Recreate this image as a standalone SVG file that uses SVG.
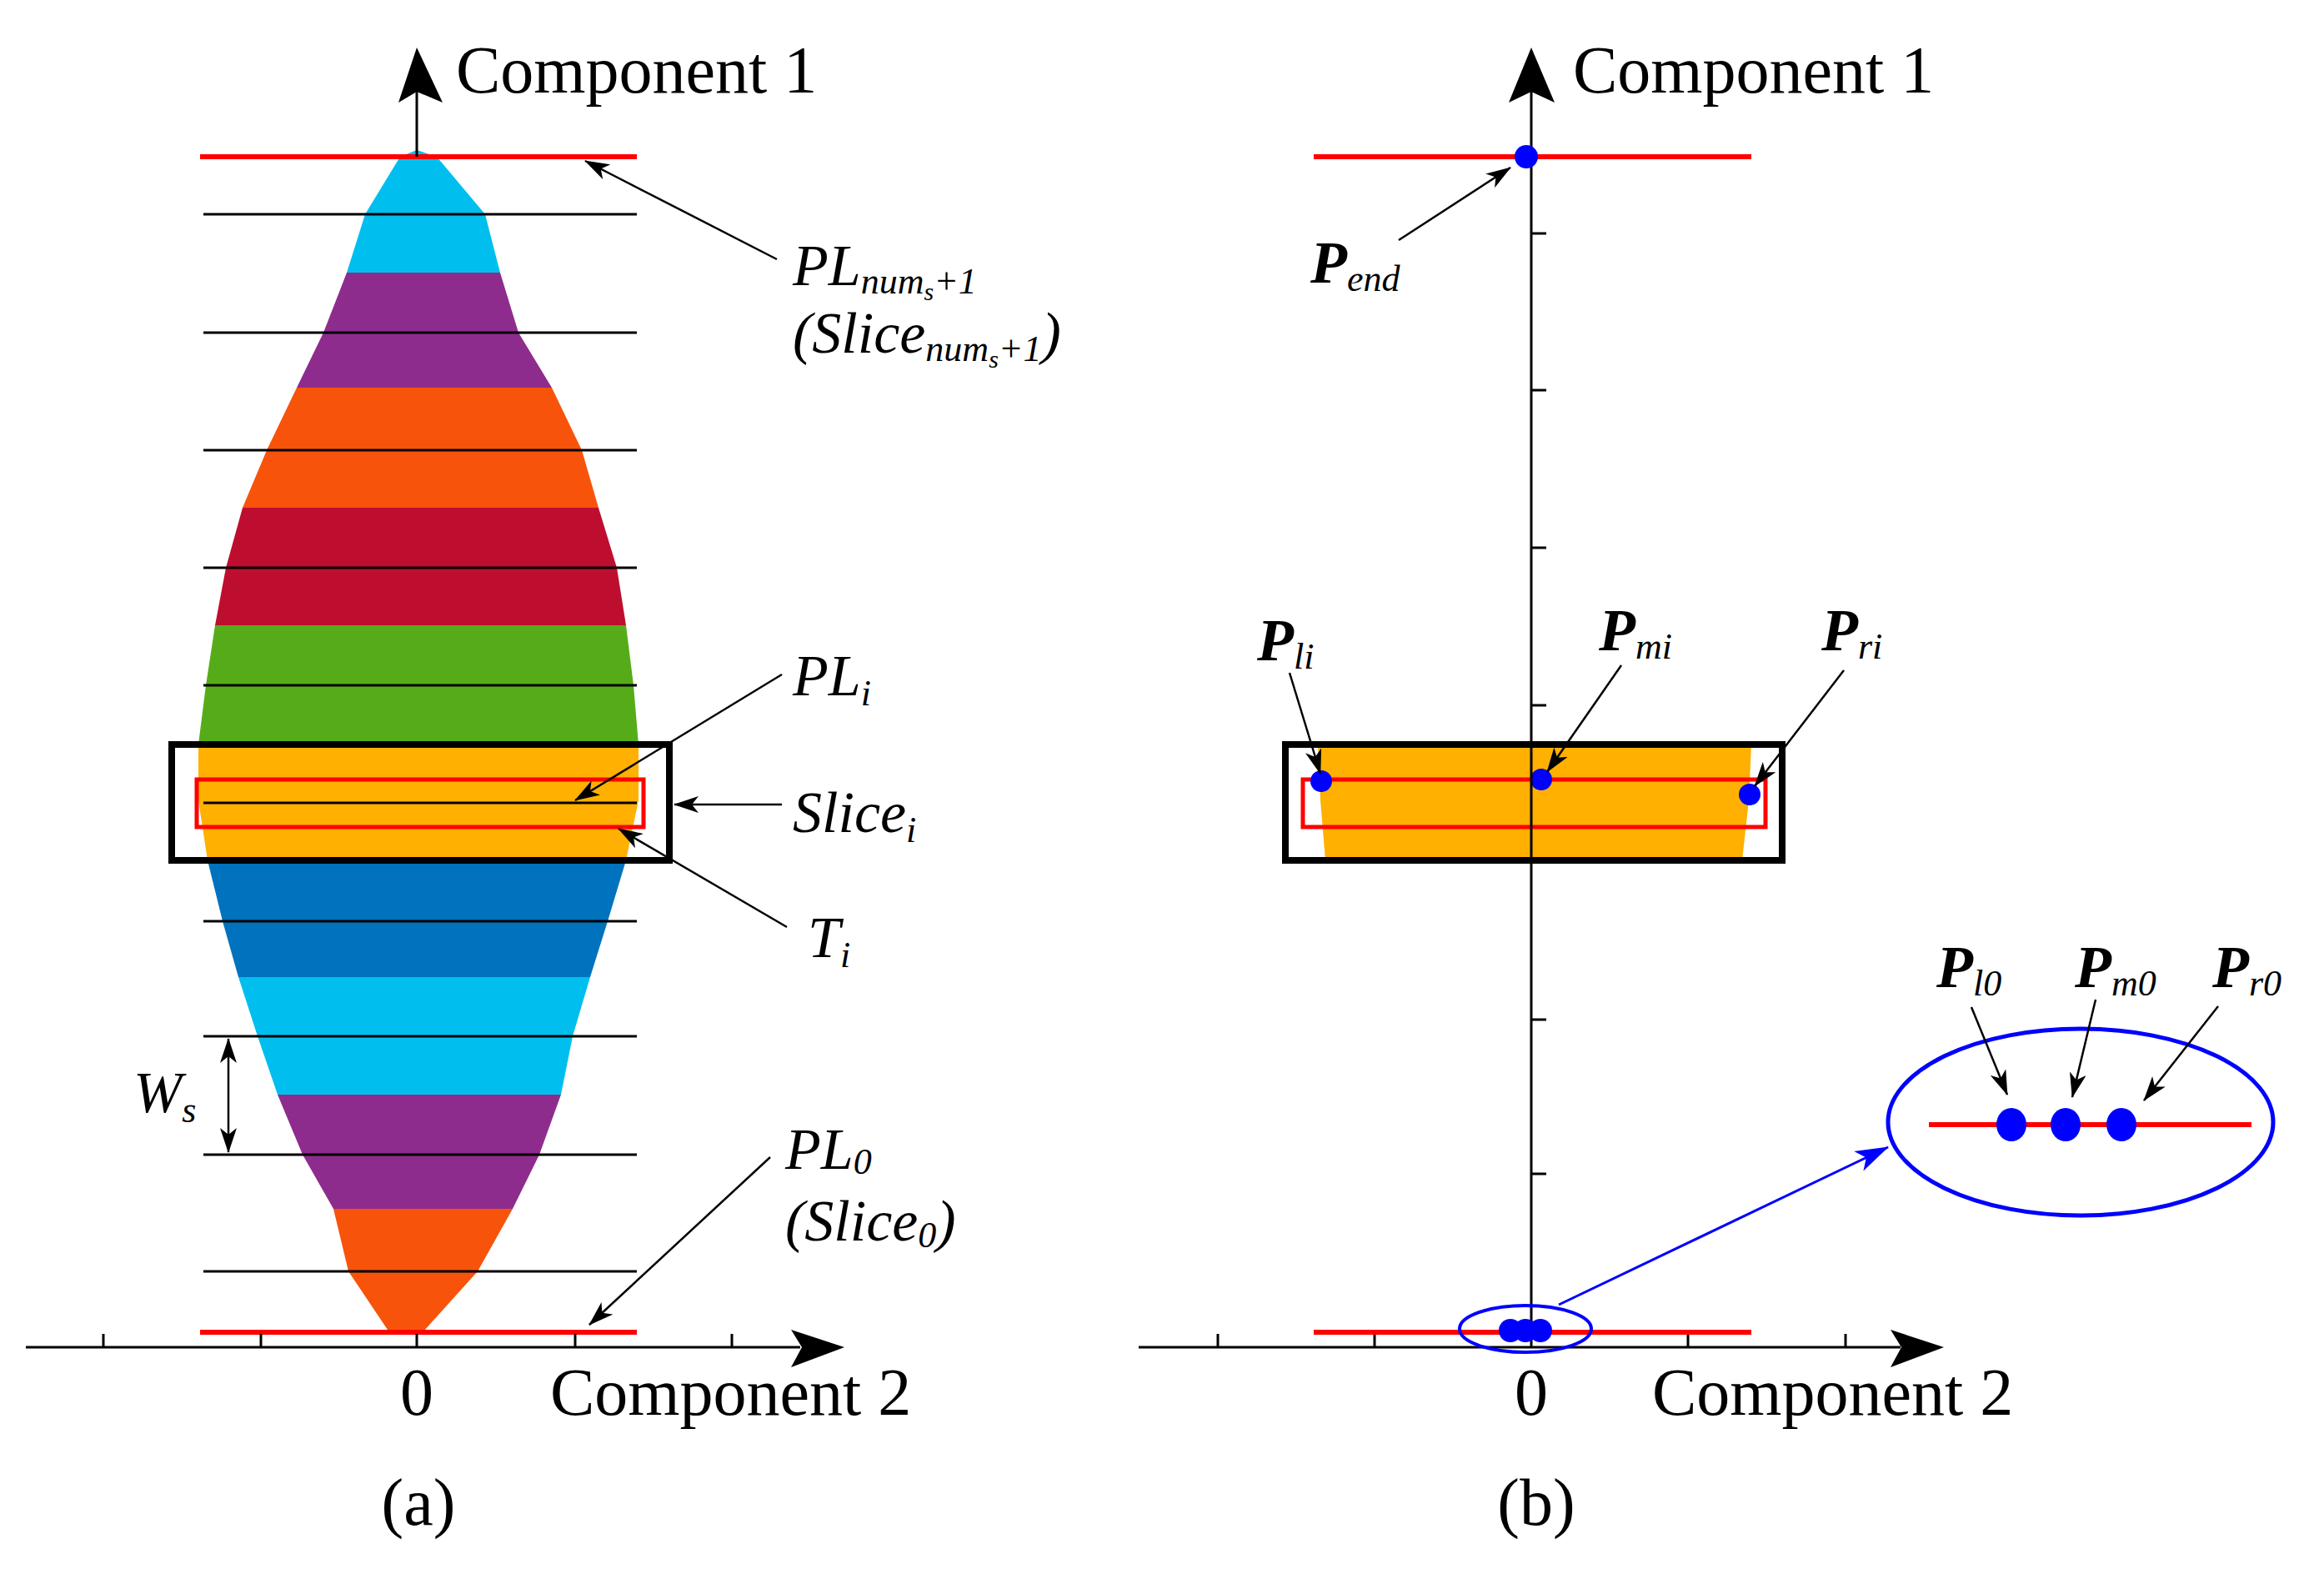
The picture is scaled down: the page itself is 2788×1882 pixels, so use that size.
<svg xmlns="http://www.w3.org/2000/svg" width="2788" height="1882" viewBox="0 0 2788 1882">
<style>
.t{font-family:"Liberation Serif",serif;font-size:80px;fill:#000}
.m{font-family:"Liberation Serif",serif;font-style:italic;font-size:70px;fill:#000}
.b{font-family:"Liberation Serif",serif;font-style:italic;font-weight:bold;font-size:72px;fill:#000}
.s{font-size:44px;font-weight:normal}
.ss{font-size:30px}
.ax{stroke:#000;stroke-width:3;fill:none}
.red{stroke:#f00;stroke-width:6;fill:none}
.bl{stroke:#000;stroke-width:3}
.ar{stroke:#000;stroke-width:2.5;fill:none;marker-end:url(#ah)}
.dot{fill:#00f}
</style>
<defs>
<marker id="ah" viewBox="0 0 30 20" refX="29" refY="10" markerWidth="30" markerHeight="20" markerUnits="userSpaceOnUse" orient="auto"><path d="M0,0 L30,10 L0,20 L8,10 Z" fill="#000"/></marker>
<marker id="ahs" viewBox="0 0 30 20" refX="29" refY="10" markerWidth="30" markerHeight="20" markerUnits="userSpaceOnUse" orient="auto-start-reverse"><path d="M0,0 L30,10 L0,20 L8,10 Z" fill="#000"/></marker>
<marker id="bah" viewBox="0 0 40 26" refX="39" refY="13" markerWidth="40" markerHeight="26" markerUnits="userSpaceOnUse" orient="auto"><path d="M0,0 L40,13 L0,26 L10,13 Z" fill="#00f"/></marker>
<clipPath id="shape"><path d="M500,180 L524,188 L582,257 L600,327 L622,399 L662,465 L698,540 L718,609 L740,681 L751,750 L760,822 L766,893 L766,960 L751,1032 L729,1105 L708,1172 L687,1243 L673,1313 L647,1385 L615,1450 L573,1525 L507,1598 L467,1598 L418,1525 L400,1450 L363,1385 L333,1313 L309,1243 L286,1172 L267,1105 L249,1032 L238,960 L238,893 L247,822 L258,750 L271,681 L291,609 L320,540 L356,465 L388,399 L416,327 L438,257 L480,188 Z"/></clipPath>
</defs>
<rect width="2788" height="1882" fill="#fff"/>
<!-- panel a -->
<g id="shape-a" clip-path="url(#shape)">
<rect x="200" y="170" width="600" height="157" fill="#00BFEF"/>
<rect x="200" y="327" width="600" height="138" fill="#8E2C8E"/>
<rect x="200" y="465" width="600" height="144" fill="#F8530B"/>
<rect x="200" y="609" width="600" height="141" fill="#BE0E2F"/>
<rect x="200" y="750" width="600" height="143" fill="#56AC18"/>
<rect x="200" y="893" width="600" height="139" fill="#FFB000"/>
<rect x="200" y="1032" width="600" height="140" fill="#0072BE"/>
<rect x="200" y="1172" width="600" height="141" fill="#00BFEF"/>
<rect x="200" y="1313" width="600" height="137" fill="#8E2C8E"/>
<rect x="200" y="1450" width="600" height="150" fill="#F8530B"/>
</g>
<g id="slicelines-a">
<line class="bl" x1="244" y1="257" x2="764" y2="257"/>
<line class="bl" x1="244" y1="399" x2="764" y2="399"/>
<line class="bl" x1="244" y1="540" x2="764" y2="540"/>
<line class="bl" x1="244" y1="681" x2="764" y2="681"/>
<line class="bl" x1="244" y1="822" x2="764" y2="822"/>
<line class="bl" x1="244" y1="963" x2="764" y2="963"/>
<line class="bl" x1="244" y1="1105" x2="764" y2="1105"/>
<line class="bl" x1="244" y1="1243" x2="764" y2="1243"/>
<line class="bl" x1="244" y1="1385" x2="764" y2="1385"/>
<line class="bl" x1="244" y1="1525" x2="764" y2="1525"/>
<line class="red" x1="240" y1="188" x2="764" y2="188"/>
<line class="red" x1="240" y1="1598" x2="764" y2="1598"/>
<rect x="206" y="893" width="597" height="139" fill="none" stroke="#000" stroke-width="8"/>
<rect x="236" y="935" width="536" height="57" fill="none" stroke="#f00" stroke-width="5"/>
</g>
<g id="axes-a">
<line class="ax" x1="500" y1="188" x2="500" y2="110"/>
<path d="M500,57 L531,123 L500,110 L478,123 Z" fill="#000"/>
<line class="ax" x1="31" y1="1616" x2="960" y2="1616"/>
<path d="M1013,1616 L949,1640 L962,1616 L949,1595 Z" fill="#000"/>
<line class="ax" x1="124" y1="1600" x2="124" y2="1616"/>
<line class="ax" x1="313" y1="1600" x2="313" y2="1616"/>
<line class="ax" x1="500" y1="1600" x2="500" y2="1616"/>
<line class="ax" x1="690" y1="1600" x2="690" y2="1616"/>
<line class="ax" x1="878" y1="1600" x2="878" y2="1616"/>
<text class="t" x="547" y="111">Component 1</text>
<text class="t" x="500" y="1697" text-anchor="middle">0</text>
<text class="t" x="660" y="1697">Component 2</text>
<text class="t" x="502" y="1829" text-anchor="middle" font-size="110">(a)</text>
</g>
<g id="labels-a">
<text class="m" x="951" y="342">PL<tspan class="s" dy="10">num</tspan><tspan class="ss" dy="8">s</tspan><tspan class="s" dy="-8">+1</tspan></text>
<text class="m" x="951" y="423">(Slice<tspan class="s" dy="10">num</tspan><tspan class="ss" dy="8">s</tspan><tspan class="s" dy="-8">+1</tspan><tspan dy="-10">)</tspan></text>
<text class="m" x="951" y="834">PL<tspan class="s" dy="12">i</tspan></text>
<text class="m" x="951" y="998">Slice<tspan class="s" dy="12">i</tspan></text>
<text class="m" x="969" y="1148">T<tspan class="s" dy="12">i</tspan></text>
<text class="m" x="942" y="1402">PL<tspan class="s" dy="6">0</tspan></text>
<text class="m" x="942" y="1488">(Slice<tspan class="s" dy="8">0</tspan><tspan dy="-8">)</tspan></text>
<text class="m" x="160" y="1334">W<tspan class="s" dy="12">s</tspan></text>
</g>
<!-- panel b -->
<g id="slice-b">
<path d="M1581,893 L2101,893 L2098,960 L2090,1032 L1590,1032 L1584,960 Z" fill="#FFB000"/>
<rect x="1542" y="893" width="596" height="139" fill="none" stroke="#000" stroke-width="8"/>
<rect x="1563" y="935" width="555" height="57" fill="none" stroke="#f00" stroke-width="5"/>
<ellipse class="dot" cx="1585" cy="937" rx="13" ry="13"/>
<ellipse class="dot" cx="1849" cy="935" rx="13" ry="13"/>
<ellipse class="dot" cx="2099" cy="953" rx="13" ry="13"/>
</g>
<g id="axes-b">
<line class="ax" x1="1837" y1="1616" x2="1837" y2="110"/>
<path d="M1837,57 L1865,123 L1837,110 L1810,123 Z" fill="#000"/>
<line class="ax" x1="1837" y1="280" x2="1855" y2="280"/>
<line class="ax" x1="1837" y1="468" x2="1855" y2="468"/>
<line class="ax" x1="1837" y1="657" x2="1855" y2="657"/>
<line class="ax" x1="1837" y1="846" x2="1855" y2="846"/>
<line class="ax" x1="1837" y1="1223" x2="1855" y2="1223"/>
<line class="ax" x1="1837" y1="1408" x2="1855" y2="1408"/>
<line class="ax" x1="1366" y1="1616" x2="2280" y2="1616"/>
<path d="M2332,1616 L2268,1640 L2281,1616 L2268,1595 Z" fill="#000"/>
<line class="ax" x1="1461" y1="1600" x2="1461" y2="1616"/>
<line class="ax" x1="1649" y1="1600" x2="1649" y2="1616"/>
<line class="ax" x1="2025" y1="1600" x2="2025" y2="1616"/>
<line class="ax" x1="2214" y1="1600" x2="2214" y2="1616"/>
<line class="red" x1="1576" y1="188" x2="2101" y2="188"/>
<line class="red" x1="1576" y1="1598" x2="2101" y2="1598"/>
<ellipse class="dot" cx="1831" cy="188" rx="14" ry="14"/>
<text class="t" x="1887" y="111">Component 1</text>
<text class="t" x="1837" y="1697" text-anchor="middle">0</text>
<text class="t" x="1982" y="1697">Component 2</text>
<text class="t" x="1843" y="1829" text-anchor="middle" font-size="110">(b)</text>
</g>
<g id="zoom-b">
<ellipse class="dot" cx="1812" cy="1596" rx="14" ry="14"/>
<ellipse class="dot" cx="1830" cy="1596" rx="14" ry="14"/>
<ellipse class="dot" cx="1848" cy="1596" rx="14" ry="14"/>
<ellipse cx="1830" cy="1594" rx="79" ry="28" fill="none" stroke="#00f" stroke-width="4"/>
<ellipse cx="2496" cy="1346" rx="231" ry="112" fill="none" stroke="#00f" stroke-width="5"/>
<line class="red" x1="2314" y1="1349" x2="2701" y2="1349"/>
<ellipse class="dot" cx="2413" cy="1349" rx="18" ry="20"/>
<ellipse class="dot" cx="2478" cy="1349" rx="18" ry="20"/>
<ellipse class="dot" cx="2545" cy="1349" rx="18" ry="20"/>
</g>
<g id="labels-b">
<text class="b" x="1572" y="339">P<tspan class="s" font-weight="normal" dy="10">end</tspan></text>
<text class="b" x="1508" y="792">P<tspan class="s" dy="10">li</tspan></text>
<text class="b" x="1918" y="780">P<tspan class="s" dy="10">mi</tspan></text>
<text class="b" x="2185" y="780">P<tspan class="s" dy="10">ri</tspan></text>
<text class="b" x="2323" y="1184">P<tspan class="s" dy="10">l0</tspan></text>
<text class="b" x="2489" y="1184">P<tspan class="s" dy="10">m0</tspan></text>
<text class="b" x="2654" y="1184">P<tspan class="s" dy="10">r0</tspan></text>
</g>
<g id="connectors">
<line class="ar" x1="932" y1="311" x2="702" y2="193"/>
<line class="ar" x1="938" y1="809" x2="690" y2="960"/>
<line class="ar" x1="938" y1="965" x2="809" y2="965"/>
<line class="ar" x1="944" y1="1112" x2="742" y2="994"/>
<line class="ar" x1="924" y1="1388" x2="707" y2="1589"/>
<line stroke="#000" stroke-width="2.5" x1="274" y1="1246" x2="274" y2="1382" marker-start="url(#ahs)" marker-end="url(#ah)"/>
<line class="ar" x1="1678" y1="288" x2="1812" y2="201"/>
<line class="ar" x1="1547" y1="807" x2="1584" y2="928"/>
<line class="ar" x1="1945" y1="798" x2="1856" y2="926"/>
<line class="ar" x1="2212" y1="804" x2="2105" y2="943"/>
<line class="ar" x1="2365" y1="1208" x2="2408" y2="1313"/>
<line class="ar" x1="2514" y1="1199" x2="2486" y2="1316"/>
<line class="ar" x1="2661" y1="1207" x2="2572" y2="1320"/>
<line stroke="#00f" stroke-width="3" x1="1870" y1="1565" x2="2265" y2="1376" marker-end="url(#bah)"/>
</g>
</svg>
